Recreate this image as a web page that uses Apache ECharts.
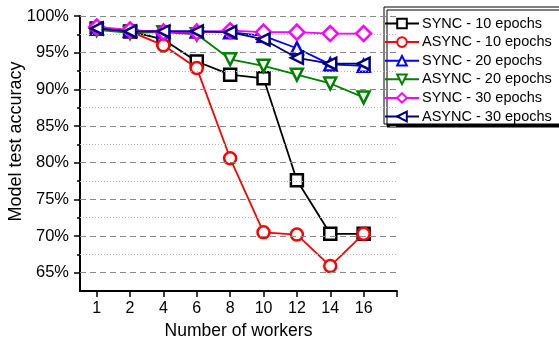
<!DOCTYPE html>
<html><head><meta charset="utf-8">
<script src="https://cdn.jsdelivr.net/npm/echarts@6/dist/echarts.min.js"></script>
<style>html,body{margin:0;padding:0;background:#fff}#c{width:559px;height:339px}</style>
</head><body><div id="c"></div>
<script>
const workers = ['1','2','4','6','8','10','12','14','16'];
const yMajorTicks = [65,70,75,80,85,90,95,100];
const yMinorTicks = [67.5,72.5,77.5,82.5,87.5,92.5,97.5];
const syncE10  = [98.3, 97.9, 96.8, 93.8, 92.0, 91.5, 77.6, 70.3, 70.3];
const asyncE10 = [98.3, 97.9, 96.0, 92.9, 80.6, 70.5, 70.2, 65.9, 70.3];
const syncE20  = [98.3, 98.0, 97.9, 97.9, 97.8, 97.3, 95.6, 93.4, 93.2];
const asyncE20 = [98.1, 97.7, 97.8, 97.5, 94.1, 93.2, 92.0, 90.8, 88.9];
const syncE30  = [98.5, 98.1, 97.8, 97.8, 98.0, 97.8, 97.8, 97.6, 97.6];
const asyncE30 = [98.3, 97.9, 97.9, 97.9, 97.8, 96.8, 94.3, 93.5, 93.5];
const names = ['SYNC - 10 epochs','ASYNC - 10 epochs','SYNC - 20 epochs','ASYNC - 20 epochs','SYNC - 30 epochs','ASYNC - 30 epochs'];
const yTitle = 'Model test accuracy';
const xTitle = 'Number of workers';
const colors = ['#000000','#ff0000','#0000ff','#008000','#ff00ff','#000080'];
const symbols = ['rect','circle','triangle','triangle','diamond','triangle'];
const rotations = [0,0,0,180,0,90];
const allData = [syncE10, asyncE10, syncE20, asyncE20, syncE30, asyncE30];

const FONT = 'Liberation Sans, Arial, sans-serif';
const chart = echarts.init(document.getElementById('c'), null, {renderer:'canvas'});

const series = [{
  type:'line', data:[], silent:true, z:1, symbol:'none',
  markLine:{
    silent:true, symbol:'none', label:{show:false}, animation:false,
    data: yMajorTicks.map(v=>({yAxis:v, lineStyle:{type:[6,4], color:'#8a8a8a', width:1}}))
      .concat(yMinorTicks.map(v=>({yAxis:v, lineStyle:{type:[1,2], color:'#b8b8b8', width:1}})))
  }
}];
allData.forEach((d,k)=>{
  series.push({
    name:names[k], type:'line', z:2+k,
    data:d.map((v,i)=>[i+1,v]),
    symbol:symbols[k], symbolRotate:rotations[k], symbolSize: k===4?15:12,
    showAllSymbol:true,
    lineStyle:{color:colors[k], width:1.8},
    itemStyle:{color:'#ffffff', borderColor:colors[k], borderWidth:2.5},
    emphasis:{disabled:true},
    animation:false
  });
});

chart.setOption({
  animation:false,
  textStyle:{fontFamily:FONT},
  grid:{left:80, right:162, top:16, bottom:48, containLabel:false, outerBoundsMode:'none'},
  graphic:[{
    type:'text', x:16.5, y:141.5, rotation:Math.PI/2, silent:true,
    style:{text:yTitle, font:'18px ' + FONT, fill:'#000', align:'center', verticalAlign:'middle'}
  }],
  legend:{
    data:names, orient:'vertical', left:384, top:7,
    itemWidth:34, itemHeight:12, itemGap:3.6,
    padding:[9,10,0,0],
    backgroundColor:'#fff', borderColor:'#000', borderWidth:1,
    shadowColor:'#000', shadowOffsetX:3, shadowOffsetY:3, shadowBlur:0,
    textStyle:{fontFamily:FONT, fontSize:14.5, color:'#000', padding:[0,0,0,-2]},
    selectedMode:false
  },
  xAxis:{
    type:'value', min:0.5, max:10,
    name:xTitle, nameLocation:'middle', nameGap:26,
    nameTextStyle:{fontFamily:FONT, fontSize:17.5, color:'#000'},
    axisLine:{lineStyle:{color:'#000', width:2}},
    axisTick:{show:true, length:6, inside:false, lineStyle:{color:'#000', width:1.5}, customValues:[1,2,3,4,5,6,7,8,9,10]},
    axisLabel:{customValues:[1,2,3,4,5,6,7,8,9], formatter:v=>workers[Math.round(v)-1]||'', fontFamily:FONT, fontSize:16, color:'#000', margin:10},
    splitLine:{show:false}
  },
  yAxis:[{
    type:'value', min:62.5, max:100,
    axisLine:{show:true, lineStyle:{color:'#000', width:2}},
    axisTick:{show:true, length:6, lineStyle:{color:'#000', width:1.5}, customValues:yMajorTicks},
    axisLabel:{customValues:yMajorTicks, formatter:v=>v+'%', fontFamily:FONT, fontSize:16.5, color:'#000', margin:11},
    splitLine:{show:false}
  },{
    type:'value', min:62.5, max:100, position:'left',
    axisLine:{show:false},
    axisTick:{show:true, length:3, lineStyle:{color:'#000', width:1.5}, customValues:yMinorTicks},
    axisLabel:{show:false},
    splitLine:{show:false}
  }],
  series:series
});
</script></body></html>
